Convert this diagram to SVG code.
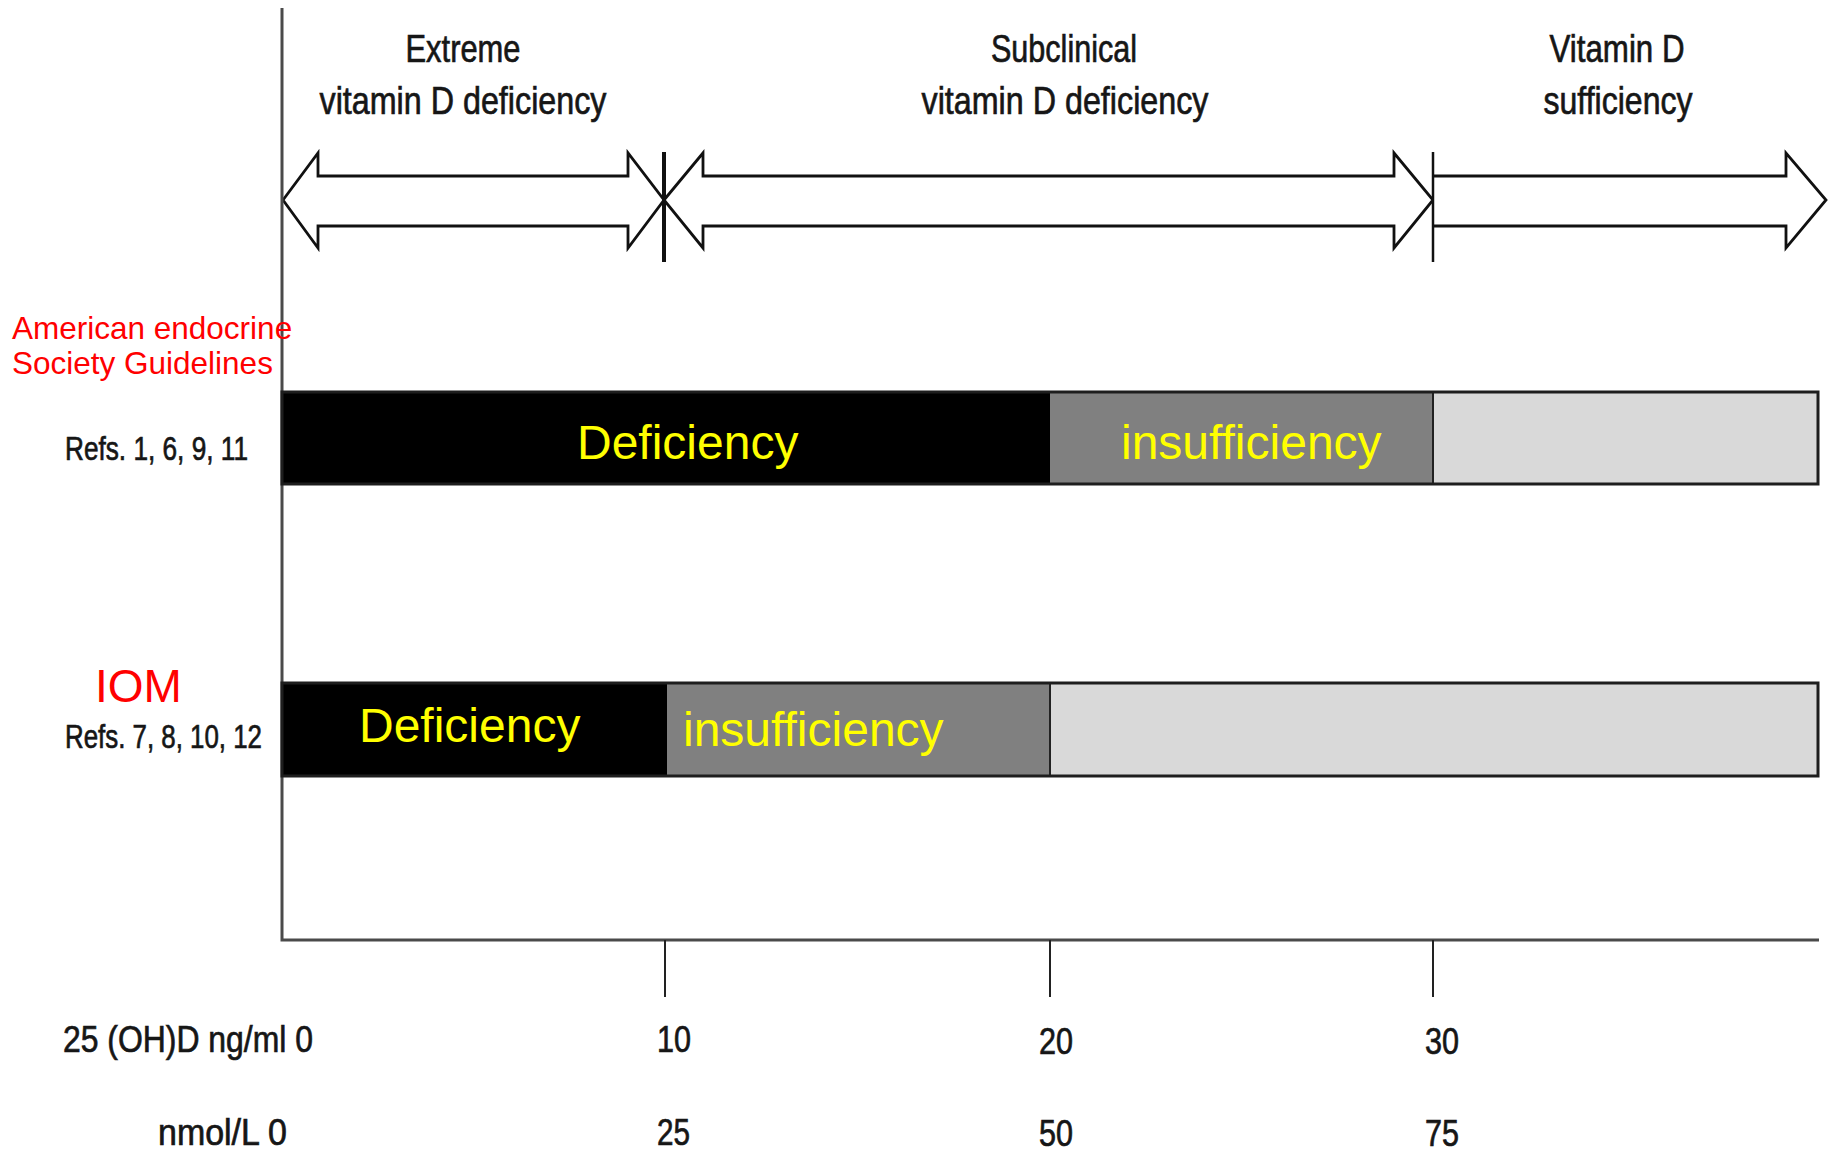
<svg xmlns="http://www.w3.org/2000/svg" width="1837" height="1151" viewBox="0 0 1837 1151">
  <style>
    .cal { font-family: "Liberation Sans", Arial, sans-serif; fill: #161616; stroke: #161616; stroke-width: 0.7; }
    .hdr { font-size: 39px; text-anchor: middle; }
    .refs { font-size: 33px; }
    .ax { font-size: 37px; }
    .red { font-family: "Liberation Sans", Arial, sans-serif; fill: #ff0000; }
    .yel { font-family: "Liberation Sans", Arial, sans-serif; fill: #ffff00; font-size: 48px; }
    .arrow { fill: #ffffff; stroke: #111111; stroke-width: 2.8; stroke-linejoin: miter; }
    .sep { stroke: #111111; }
    .axis { stroke: #4a4a4a; stroke-width: 3; fill: none; }
    .tick { stroke: #222222; stroke-width: 2; }
    .outline { fill: none; stroke: #1e1e1e; stroke-width: 3; }
    .div { stroke: #222222; stroke-width: 2; }
  </style>

  <rect x="0" y="0" width="1837" height="1151" fill="#ffffff"/>

  <!-- Headers -->
  <g id="hdr-extreme">
    <text class="cal hdr" x="463" y="62" textLength="115" lengthAdjust="spacingAndGlyphs">Extreme</text>
    <text class="cal hdr" x="463" y="114" textLength="287" lengthAdjust="spacingAndGlyphs">vitamin D deficiency</text>
  </g>
  <g id="hdr-subclinical">
    <text class="cal hdr" x="1064" y="62" textLength="146" lengthAdjust="spacingAndGlyphs">Subclinical</text>
    <text class="cal hdr" x="1065" y="114" textLength="287" lengthAdjust="spacingAndGlyphs">vitamin D deficiency</text>
  </g>
  <g id="hdr-sufficiency">
    <text class="cal hdr" x="1617" y="62" textLength="135" lengthAdjust="spacingAndGlyphs">Vitamin D</text>
    <text class="cal hdr" x="1618" y="114" textLength="149" lengthAdjust="spacingAndGlyphs">sufficiency</text>
  </g>

  <!-- Connectors: range arrows, axes, ticks -->
  <g id="connectors">
    <polygon class="arrow" points="283,200 318,153 318,176 628,176 628,153 664,200 628,248 628,226 318,226 318,248"/>
    <polygon class="arrow" points="664,200 703,153 703,176 1394,176 1394,153 1433,200 1394,248 1394,226 703,226 703,248"/>
    <polyline class="arrow" points="1433,176 1786,176 1786,153 1826,200 1786,248 1786,226 1433,226"/>
    <line class="sep" x1="664" y1="152" x2="664" y2="262" stroke-width="4"/>
    <line class="sep" x1="1433" y1="152" x2="1433" y2="262" stroke-width="2.5"/>
    <polyline class="axis" points="282,8 282,940 1819,940"/>
    <line class="tick" x1="665" y1="940" x2="665" y2="997"/>
    <line class="tick" x1="1050" y1="940" x2="1050" y2="997"/>
    <line class="tick" x1="1433" y1="940" x2="1433" y2="997"/>
  </g>

  <!-- Endocrine Society row -->
  <g id="label-aes">
    <text class="red" x="12" y="339" font-size="31.5">American endocrine</text>
    <text class="red" x="12" y="374" font-size="31.5">Society Guidelines</text>
    <text class="cal refs" x="65" y="460" textLength="183" lengthAdjust="spacingAndGlyphs">Refs. 1, 6, 9, 11</text>
  </g>
  <g id="bar-aes">
    <rect x="282" y="392" width="768" height="92" fill="#000000"/>
    <rect x="1050" y="392" width="383" height="92" fill="#808080"/>
    <rect x="1433" y="392" width="385" height="92" fill="#d9d9d9"/>
    <line class="div" x1="1433" y1="392" x2="1433" y2="484"/>
    <rect class="outline" x="282" y="392" width="1536" height="92"/>
    <text class="yel" x="577" y="459">Deficiency</text>
    <text class="yel" x="1121" y="459">insufficiency</text>
  </g>

  <!-- IOM row -->
  <g id="label-iom">
    <text class="red" x="95" y="702" font-size="46">IOM</text>
    <text class="cal refs" x="65" y="748" textLength="197" lengthAdjust="spacingAndGlyphs">Refs. 7, 8, 10, 12</text>
  </g>
  <g id="bar-iom">
    <rect x="282" y="683" width="385" height="93" fill="#000000"/>
    <rect x="667" y="683" width="383" height="93" fill="#808080"/>
    <rect x="1050" y="683" width="768" height="93" fill="#d9d9d9"/>
    <line class="div" x1="1050" y1="683" x2="1050" y2="776"/>
    <rect class="outline" x="282" y="683" width="1536" height="93"/>
    <text class="yel" x="359" y="742">Deficiency</text>
    <text class="yel" x="683" y="746">insufficiency</text>
  </g>

  <!-- Axis labels -->
  <g id="axis-ng">
    <text class="cal ax" x="63" y="1052" textLength="250" lengthAdjust="spacingAndGlyphs">25 (OH)D ng/ml 0</text>
    <text class="cal ax" x="657" y="1052" textLength="34" lengthAdjust="spacingAndGlyphs">10</text>
    <text class="cal ax" x="1039" y="1054" textLength="34" lengthAdjust="spacingAndGlyphs">20</text>
    <text class="cal ax" x="1425" y="1054" textLength="34" lengthAdjust="spacingAndGlyphs">30</text>
  </g>
  <g id="axis-nmol">
    <text class="cal ax" x="158" y="1145" textLength="129" lengthAdjust="spacingAndGlyphs">nmol/L 0</text>
    <text class="cal ax" x="657" y="1145" textLength="33" lengthAdjust="spacingAndGlyphs">25</text>
    <text class="cal ax" x="1039" y="1146" textLength="34" lengthAdjust="spacingAndGlyphs">50</text>
    <text class="cal ax" x="1425" y="1146" textLength="34" lengthAdjust="spacingAndGlyphs">75</text>
  </g>
</svg>
